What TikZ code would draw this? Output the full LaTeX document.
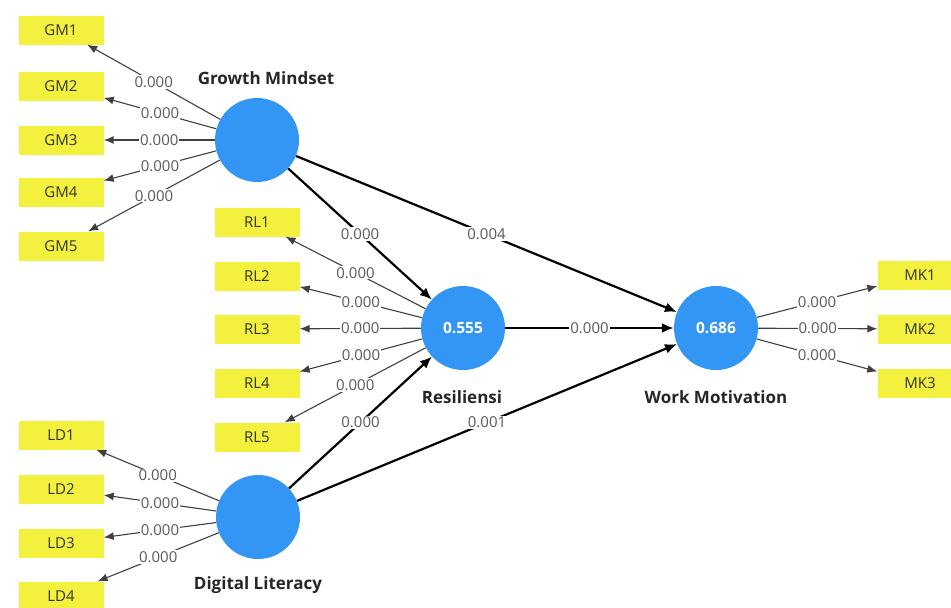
\documentclass[tikz,border=0pt]{standalone}
\usepackage{fontspec}
\setmainfont{Open Sans}
\usepackage{tikz}
\usetikzlibrary{arrows.meta,shapes}
\definecolor{lvblue}{RGB}{51,150,245}
\definecolor{mvyellow}{RGB}{243,240,62}
\tikzstyle{latent}=[circle,fill=lvblue,minimum size=84pt,inner sep=0pt,text=white,font=\fontsize{15.5}{18}\selectfont\bfseries]
\tikzstyle{item}=[rectangle,fill=mvyellow,minimum width=85pt,minimum height=29pt,inner sep=0pt,text=black!80,font=\fontsize{15}{17}\selectfont]
\tikzstyle{loading} = [draw=black!75,line width=1.1pt,->,>={Latex[length=10pt,width=8pt]}]
\tikzstyle{structural} = [draw=black,line width=2.2pt,->,>={Latex[length=12pt,width=10pt]}]
\tikzstyle{weight} = [font=\fontsize{15}{17}\selectfont,text=black!65,fill=white,inner sep=1pt]
\tikzstyle{lvname} = [font=\fontsize{17}{20}\selectfont\bfseries,text=black!85]

\begin{document}
\begin{tikzpicture}[x=1pt,y=-1pt]
    \useasboundingbox (0,0) rectangle (951,608);
	% draw the latent variables
	\node[latent] (GM) at (257,140) {};
	\node[latent] (RS) at (463,328) {0.555};
	\node[latent] (WM) at (716,328) {0.686};
	\node[latent] (DL) at (258,517) {};
	\node[lvname] (GMname) at (266,78) {Growth Mindset};
	\node[lvname] (RSname) at (462,397) {Resiliensi};
	\node[lvname] (WMname) at (716,397) {Work Motivation};
	\node[lvname] (DLname) at (258,585) {Digital Literacy};
	% draw the indicators
	\foreach \pos/\name in {{(61,30)/GM1}, {(61,86)/GM2}, {(61,140)/GM3}, {(61,192)/GM4}, {(61,246)/GM5},
	                        {(257,222)/RL1}, {(257,276)/RL2}, {(257,329)/RL3}, {(257,383)/RL4}, {(257,437)/RL5},
	                        {(61,435)/LD1}, {(61,489)/LD2}, {(61,543)/LD3}, {(61,596)/LD4},
	                        {(920,275)/MK1}, {(920,329)/MK2}, {(920,383)/MK3}}
	    \node[item] (\name) at \pos {\name};
	% connect latent variables with indicators and draw loadings
	\foreach \source/ \dest /\weight in {GM/GM1/0.000, GM/GM2/0.000, GM/GM3/0.000, GM/GM4/0.000, GM/GM5/0.000,
	                                     RS/RL1/0.000, RS/RL2/0.000, RS/RL3/0.000, RS/RL4/0.000, RS/RL5/0.000,
	                                     DL/LD1/0.000, DL/LD2/0.000, DL/LD3/0.000, DL/LD4/0.000,
	                                     WM/MK1/0.000, WM/MK2/0.000, WM/MK3/0.000}
	    \path[loading] (\source) -- node[weight] {\weight} (\dest);
	% inner model
	\foreach \source/ \dest /\weight in {GM/RS/0.000, GM/WM/0.004, RS/WM/0.000, DL/RS/0.000, DL/WM/0.001}
	    \path[structural] (\source) -- node[weight] {\weight} (\dest);
\end{tikzpicture}
\end{document}
